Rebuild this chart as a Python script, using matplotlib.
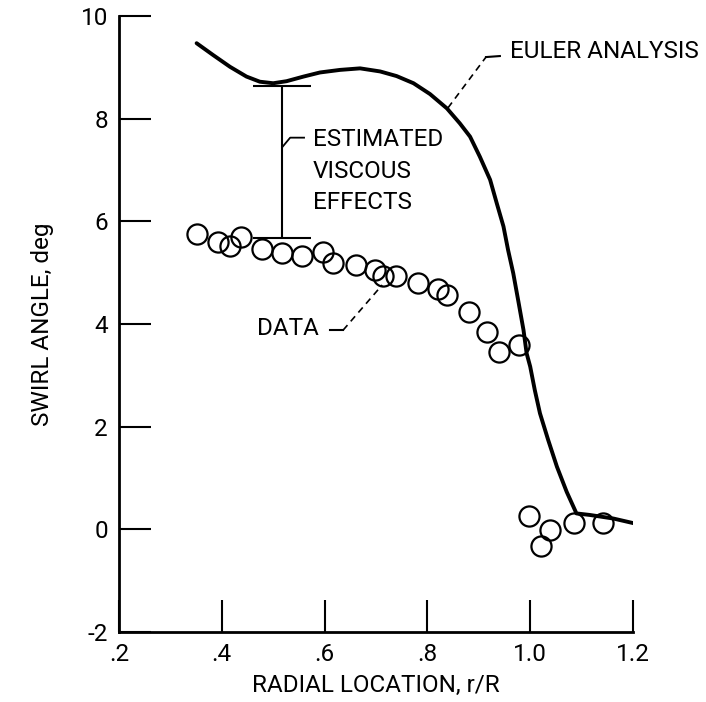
import matplotlib
matplotlib.use('Agg')
import matplotlib.pyplot as plt

plt.rcParams['font.family'] = ['Roboto', 'DejaVu Sans']
plt.rcParams['axes.unicode_minus'] = False
plt.rcParams['xtick.direction'] = 'in'
plt.rcParams['ytick.direction'] = 'in'
plt.rcParams['xtick.major.size'] = 23
plt.rcParams['ytick.major.size'] = 23
plt.rcParams['xtick.major.width'] = 1.5
plt.rcParams['ytick.major.width'] = 1.5
plt.rcParams['xtick.major.pad'] = 8
plt.rcParams['ytick.major.pad'] = 8

# Euler analysis curve
eulerX = [0.351, 0.383, 0.416, 0.448, 0.474, 0.500, 0.526, 0.559, 0.591, 0.630,
          0.669, 0.708, 0.740, 0.773, 0.805, 0.838, 0.863, 0.883, 0.902, 0.922,
          0.935, 0.948, 0.957, 0.967, 0.977, 0.987, 0.993, 1.000, 1.009, 1.019,
          1.035, 1.052, 1.071, 1.090, 1.116, 1.162, 1.201]
eulerY = [9.47, 9.24, 9.01, 8.82, 8.72, 8.69, 8.73, 8.82, 8.90, 8.95,
          8.98, 8.92, 8.83, 8.69, 8.48, 8.20, 7.91, 7.65, 7.26, 6.81,
          6.35, 5.90, 5.44, 4.99, 4.44, 3.88, 3.43, 3.17, 2.71, 2.26,
          1.74, 1.22, 0.73, 0.31, 0.28, 0.21, 0.12]

# measured data
dataX = [0.351, 0.393, 0.416, 0.437, 0.478, 0.518, 0.557, 0.597, 0.617, 0.662,
         0.698, 0.714, 0.739, 0.781, 0.821, 0.838, 0.880, 0.916, 0.939, 0.979,
         0.998, 1.021, 1.039, 1.085, 1.142]
dataY = [5.75, 5.60, 5.51, 5.69, 5.47, 5.38, 5.33, 5.40, 5.18, 5.14,
         5.05, 4.94, 4.94, 4.79, 4.69, 4.57, 4.24, 3.84, 3.45, 3.59,
         0.25, -0.32, -0.01, 0.13, 0.13]

# estimated viscous effects bar
viscX = 0.517
viscLow = 5.67
viscHigh = 8.64

xTicks = [0.2, 0.4, 0.6, 0.8, 1.0, 1.2]
xTickLabels = ['.2', '.4', '.6', '.8', '1.0', '1.2']
yTicks = [-2, 0, 2, 4, 6, 8, 10]

fig = plt.figure(figsize=(7.06, 7.02), dpi=100)
ax = fig.add_axes([119 / 706, 1 - 632 / 702, 514 / 706, 616 / 702])

ax.plot(eulerX, eulerY, color='black', lw=2.8, solid_capstyle='round',
        solid_joinstyle='round')
ax.plot(dataX, dataY, 'o', mfc='none', mec='black', ms=14.5, mew=1.6)

mid = (viscLow + viscHigh) / 2
ax.errorbar([viscX], [mid], yerr=[[mid - viscLow], [viscHigh - mid]],
            fmt='none', ecolor='black', elinewidth=1.5, capsize=21, capthick=1.5)

# leader lines
ax.plot([0.840, 0.914], [8.21, 9.20], color='black', lw=1.2, ls=(0, (4, 3)))
ax.plot([0.914, 0.941], [9.20, 9.22], color='black', lw=1.5)
ax.plot([0.518, 0.533, 0.560], [7.45, 7.63, 7.63], color='black', lw=1.3)
ax.plot([0.611, 0.636], [3.88, 3.88], color='black', lw=1.5)
ax.plot([0.636, 0.712], [3.88, 4.76], color='black', lw=1.2, ls=(0, (4, 3)))

txtSize = 17.5
ax.text(0.961, 9.30, 'EULER ANALYSIS', fontsize=txtSize, va='center', ha='left')
ax.text(0.577, 7.60, 'ESTIMATED', fontsize=txtSize, va='center', ha='left')
ax.text(0.577, 6.97, 'VISCOUS', fontsize=txtSize, va='center', ha='left')
ax.text(0.577, 6.37, 'EFFECTS', fontsize=txtSize, va='center', ha='left')
ax.text(0.468, 3.92, 'DATA', fontsize=txtSize, va='center', ha='left')

ax.set_xlim(0.2, 1.2)
ax.set_ylim(-2, 10)
ax.set_xticks(xTicks)
ax.set_xticklabels(xTickLabels)
ax.set_yticks(yTicks)
ax.spines['top'].set_visible(False)
ax.spines['right'].set_visible(False)
ax.spines['left'].set_linewidth(2)
ax.spines['bottom'].set_linewidth(2)
ax.tick_params(labelsize=txtSize)
ax.set_clip_on(False)

ax.set_xlabel('RADIAL LOCATION, r/R', fontsize=txtSize, labelpad=6)
ax.set_ylabel('SWIRL ANGLE, deg', fontsize=txtSize, labelpad=19)

fig.savefig('out.png', dpi=100)
